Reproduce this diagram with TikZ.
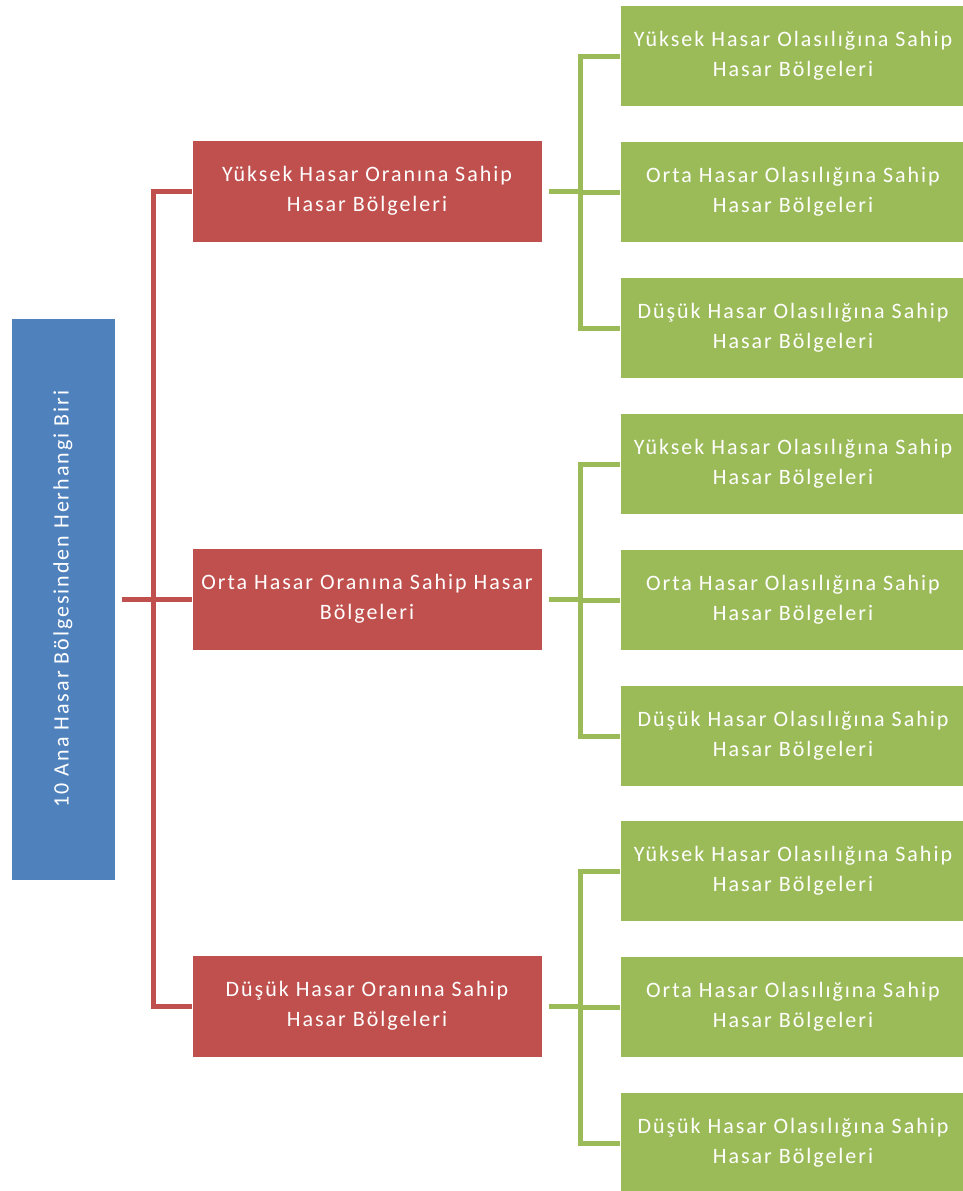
\documentclass[tikz,border=0pt]{standalone}
\usepackage{fontspec}
\setmainfont{Carlito}[LetterSpace=9]
\definecolor{bblue}{HTML}{4F81BD}
\definecolor{bred}{HTML}{C0504D}
\definecolor{bgreen}{HTML}{9BBB59}
\begin{document}
\begin{tikzpicture}[x=1pt,y=-1pt,
  box/.style={draw=white, line width=1pt, text=white, align=center, inner sep=0pt,
    font=\fontsize{22}{30}\selectfont},
  rootbox/.style={box, fill=bblue, minimum width=104pt, minimum height=562pt},
  redbox/.style={box, fill=bred, minimum width=350pt, minimum height=102pt},
  greenbox/.style={box, fill=bgreen, minimum width=345pt, minimum height=101pt},
  redline/.style={draw=bred, line width=5pt},
  greenline/.style={draw=bgreen, line width=5pt}]
\useasboundingbox (0,0) rectangle (963,1191);
\node[rootbox] (root) at (63,599) {};
\node[rotate=90, text=white, font=\fontsize{22}{30}\selectfont] (roottxt) at (root.center) {10 Ana Hasar Bölgesinden Herhangi Biri};
\node[redbox] (r1) at (367,191) {Yüksek Hasar Oranına Sahip\\Hasar Bölgeleri};
\node[redbox] (r2) at (367,599) {Orta Hasar Oranına Sahip Hasar\\Bölgeleri};
\node[redbox] (r3) at (367,1006) {Düşük Hasar Oranına Sahip\\Hasar Bölgeleri};
\foreach \g/\y in {1/56,2/464,3/871}{
  \node[greenbox] (g\g a) at (793,\y) {Yüksek Hasar Olasılığına Sahip\\Hasar Bölgeleri};
  \node[greenbox] (g\g b) at (793,\y+136) {Orta Hasar Olasılığına Sahip\\Hasar Bölgeleri};
  \node[greenbox] (g\g c) at (793,\y+272) {Düşük Hasar Olasılığına Sahip\\Hasar Bölgeleri};
}
% red connectors
\coordinate (rj) at (153,599);
\draw[redline] (root.east) ++(6pt,0) -- (rj);
\draw[redline] (rj) -- (r2.west);
\draw[redline] (r1.west) -- ++(-38pt,0) |- (r3.west);
% green connectors
\foreach \g in {1,2,3}{
  \draw[greenline] (r\g.east) ++(6pt,0) -- ++(33pt,0);
  \draw[greenline] (g\g a.west) -- ++(-40pt,0) |- (g\g c.west);
  \draw[greenline] (g\g b.west) -- ++(-40pt,0);
}
\end{tikzpicture}
\end{document}
